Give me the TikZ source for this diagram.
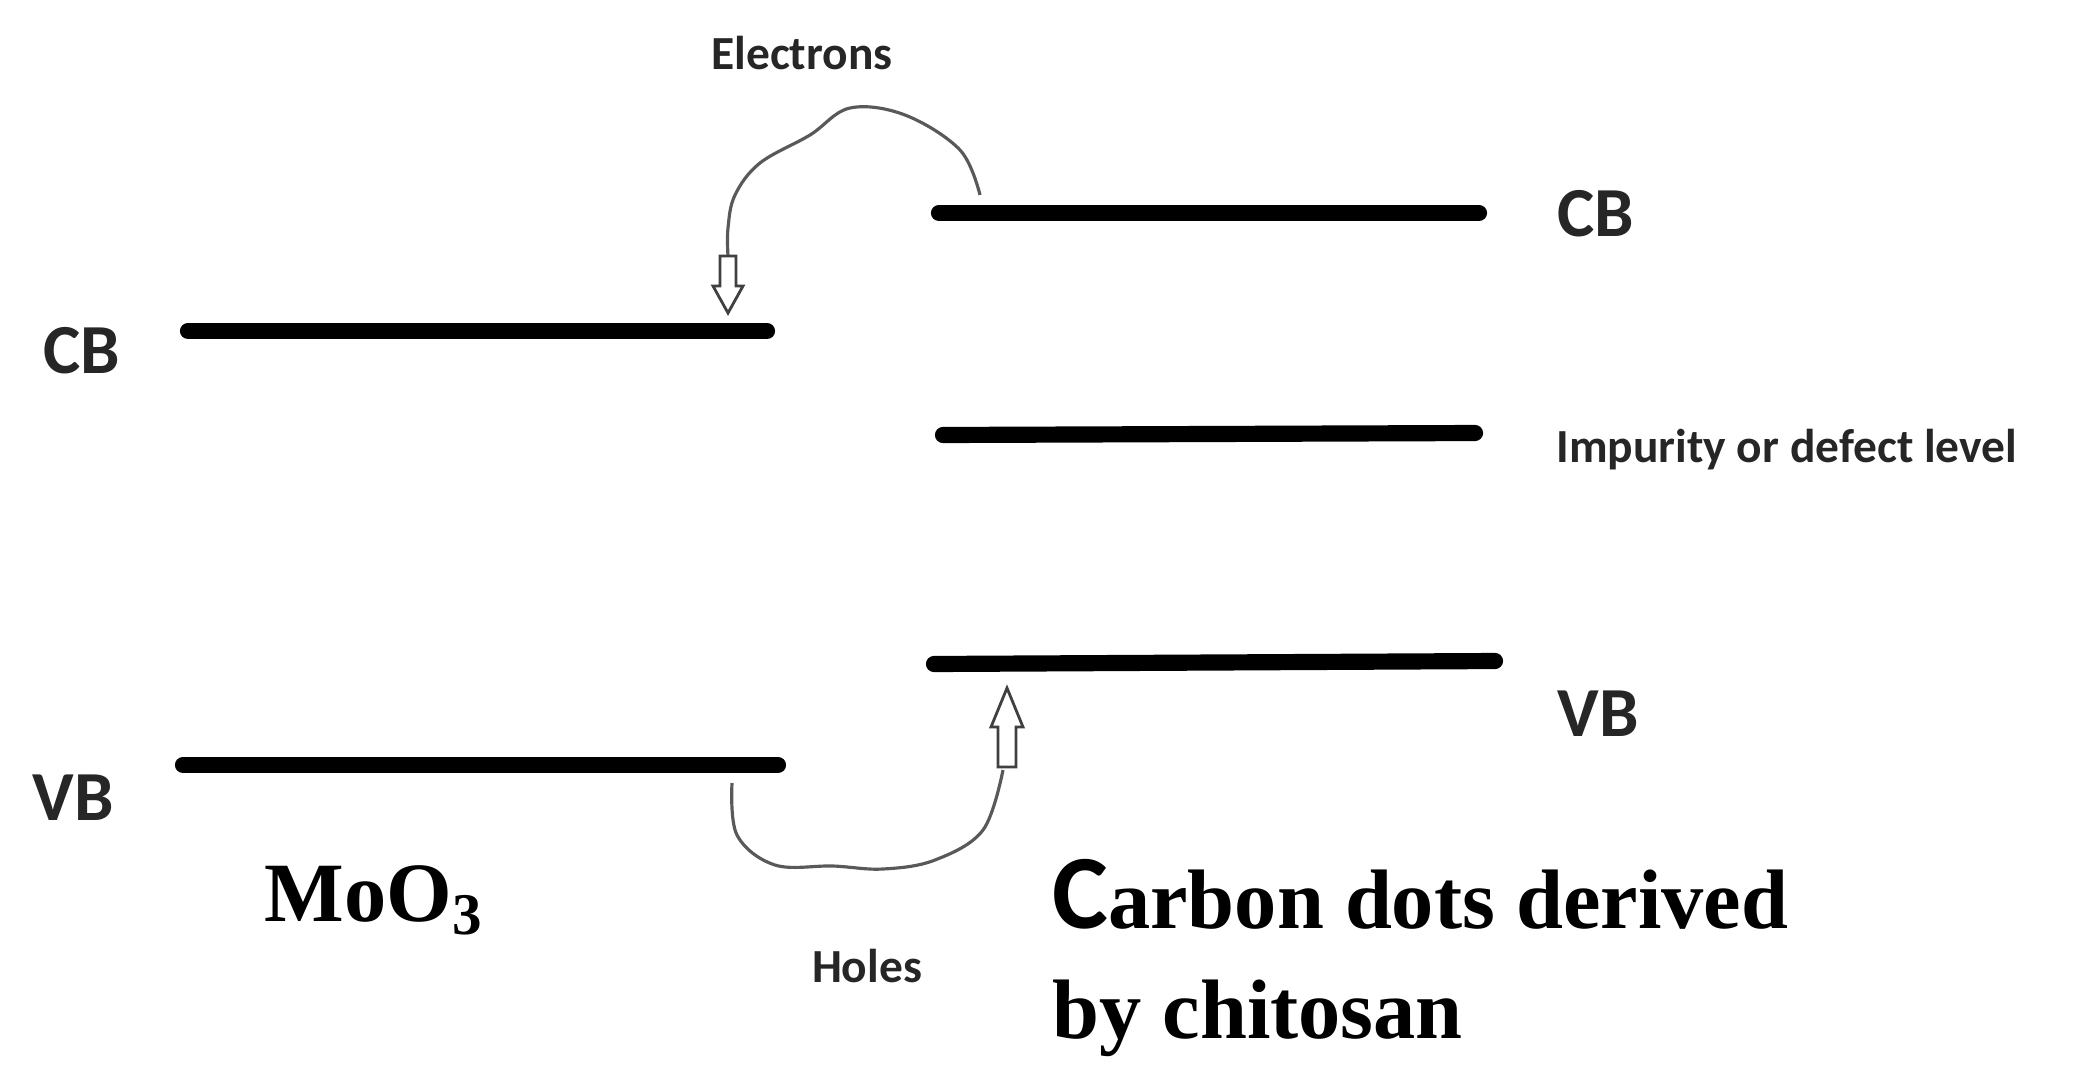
\documentclass[tikz,border=0pt]{standalone}
\usepackage{fontspec}
\setmainfont{Liberation Serif}
\setsansfont{Carlito}
\begin{document}
\begin{tikzpicture}[x=0.01cm,y=-0.01cm,
  level/.style={line width=4.6pt,line cap=round},
  band/.style={font=\sffamily\bfseries\fontsize{20}{24}\selectfont,text=black!85},
  small/.style={font=\sffamily\bfseries\fontsize{13.5}{16}\selectfont,text=black!85},
  big/.style={font=\rmfamily\bfseries\fontsize{24}{31}\selectfont,align=left},
  wire/.style={gray!70!black,line width=0.9pt},
  hollow/.style={draw=black!75,line width=0.8pt,fill=white}]
\useasboundingbox (0,0) rectangle (2075,1087);
% levels
\coordinate (lcb1) at (188,331); \coordinate (lcb2) at (767,331);
\coordinate (lvb1) at (183,765); \coordinate (lvb2) at (778,765);
\coordinate (rcb1) at (939,213); \coordinate (rcb2) at (1479,213);
\coordinate (im1) at (943,435); \coordinate (im2) at (1475,433);
\coordinate (rvb1) at (934,664); \coordinate (rvb2) at (1495,661);
\draw[level] (lcb1) -- (lcb2);
\draw[level] (lvb1) -- (lvb2);
\draw[level] (rcb1) -- (rcb2);
\draw[level] (im1) -- (im2);
\draw[level] (rvb1) -- (rvb2);
% labels
\node[band] (cbl) at (82,351) {CB};
\node[band] (vbl) at (73,798) {VB};
\node[band] (cbr) at (1596,214) {CB};
\node[band] (vbr) at (1598,714) {VB};
\node[small,anchor=west] (imp) at (1544,450) {Impurity or defect level};
\node[small] (el) at (802,53) {Electrons};
\node[small] (ho) at (867,966) {Holes};
\node[big] (moo) at (374,900) {MoO\textsubscript{3}};
\node[big,anchor=west] (cd) at (1040,958) {{\sffamily\fontsize{30}{30}\selectfont C}arbon dots derived\\by chitosan};
% electron path
\draw[wire] plot[smooth,tension=0.6] coordinates {(980,195) (960,150) (905,115) (850,108) (810,135) (760,163) (735,195) (728,228) (728,256)};
\draw[hollow] (720,256) -- (736,256) -- (736,286) -- (743,286) -- (728,313) -- (713,286) -- (720,286) -- cycle;
% holes path
\draw[wire] plot[smooth,tension=0.6] coordinates {(732,783) (737,835) (775,865) (833,866) (883,869) (935,860) (983,830) (1003,770)};
\draw[hollow] (998,767) -- (1016,767) -- (1016,727) -- (1023,727) -- (1007,688) -- (991,727) -- (998,727) -- cycle;
\end{tikzpicture}
\end{document}
